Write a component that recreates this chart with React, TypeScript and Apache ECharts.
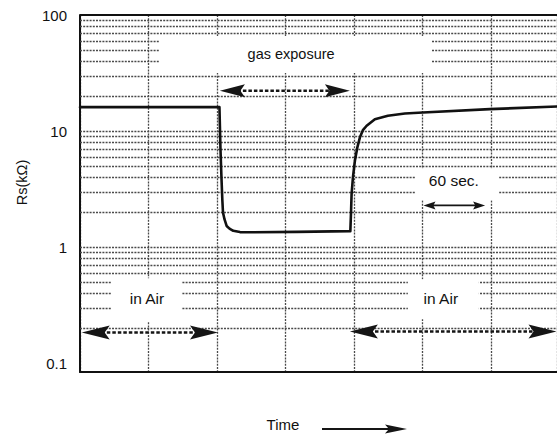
import React, { useEffect, useRef } from 'react';
import * as echarts from 'echarts';

// Sensor resistance trace (time in seconds, one vertical division = 60 s)
const timeSec = [0, 122.2, 123.1, 124.0, 124.7, 125.3, 126.6, 128.5, 131.0, 134.3, 140.2, 143.1, 190, 236.9, 237.6, 238.0, 239.2, 240.9, 243.1, 245.3, 247.9, 251.2, 258.4, 269.8, 284.7, 300.5, 359.1, 418];
const rsKOhm = [16.1, 16.1, 7.0, 3.9, 2.6, 2.0, 1.75, 1.53, 1.45, 1.39, 1.355, 1.35, 1.36, 1.38, 2.14, 2.88, 4.03, 5.57, 7.3, 8.86, 10.2, 11.15, 12.7, 13.6, 14.2, 14.5, 15.5, 16.3];

// Log-paper horizontal rulings
const rulingValues = [0.2, 0.3, 0.4, 0.5, 0.6, 0.7, 0.8, 0.9, 1, 2, 3, 4, 5, 6, 7, 8, 9, 10, 20, 30, 40, 50, 60, 70, 80, 90];
const yTickLabels = [0.1, 1, 10, 100];

const Y_MIN = 0.0847;
const Y_MAX = 100;
const X_MIN = 0;
const X_MAX = 418;
const X_STEP = 60;

const FONT = '"Liberation Sans", Arial, Helvetica, sans-serif';

export default function App() {
  const ref = useRef<HTMLDivElement>(null);

  useEffect(() => {
    if (!ref.current) return;
    const chart = echarts.init(ref.current, null, { renderer: 'svg' });
    const gridStyle = { color: '#4a4a4a', width: 1.3, type: [2, 1.2] as any };

    chart.setOption({
      animation: false,
      backgroundColor: '#ffffff',
      grid: { left: 80, right: 0, top: 15, bottom: 62, containLabel: false },
      xAxis: {
        type: 'value',
        min: X_MIN,
        max: X_MAX,
        interval: X_STEP,
        axisLine: { show: true, onZero: false, lineStyle: { color: '#111', width: 2 } },
        axisTick: { show: false },
        axisLabel: { show: false },
        splitLine: { show: true, lineStyle: gridStyle },
      },
      yAxis: {
        type: 'log',
        logBase: 10,
        min: Y_MIN,
        max: Y_MAX,
        splitNumber: 3,
        axisLine: { show: true, lineStyle: { color: '#111', width: 2 } },
        axisTick: { show: false },
        splitLine: { show: false },
        axisLabel: {
          show: true,
          margin: 13,
          fontSize: 15,
          fontFamily: FONT,
          color: '#111',
          formatter: (v: number) => {
            const hit = yTickLabels.find((t) => Math.abs(Math.log10(v) - Math.log10(t)) < 0.01);
            return hit === undefined ? '' : String(hit);
          },
        },
      },
      series: [
        {
          type: 'line',
          data: timeSec.map((t, i) => [t, rsKOhm[i]]),
          showSymbol: false,
          symbol: 'none',
          z: 10,
          lineStyle: { color: '#111', width: 2.6, join: 'round', cap: 'round' },
          markLine: {
            silent: true,
            symbol: 'none',
            z: 1,
            label: { show: false },
            lineStyle: gridStyle,
            data: [
              ...rulingValues.map((v) => ({ yAxis: v })),
              { yAxis: Y_MAX, lineStyle: { color: '#111', width: 2, type: 'solid' } },
            ],
          },
        },
      ],
    });

    const px = (t: number, v: number) => chart.convertToPixel({ gridIndex: 0 }, [t, v]) as number[];

    const els: any[] = [];
    const box = (t1: number, v1: number, t2: number, v2: number) => {
      const a = px(t1, v1);
      const b = px(t2, v2);
      els.push({
        type: 'rect',
        z: 50,
        silent: true,
        shape: { x: Math.min(a[0], b[0]), y: Math.min(a[1], b[1]), width: Math.abs(b[0] - a[0]), height: Math.abs(b[1] - a[1]) },
        style: { fill: '#ffffff' },
      });
    };
    const label = (text: string, x: number, y: number, size: number, rotation = 0) => {
      els.push({
        type: 'text',
        z: 70,
        x,
        y,
        rotation,
        style: { text, fill: '#111', font: `${size}px ${FONT}`, align: 'center', verticalAlign: 'middle' },
      });
    };
    const arrow = (
      x1: number,
      x2: number,
      y: number,
      L: number,
      H: number,
      dashed: boolean,
      width: number,
      both: boolean,
    ) => {
      const color = '#151515';
      els.push({
        type: 'line',
        z: 60,
        shape: { x1: both ? x1 + L * 0.7 : x1, y1: y, x2: x2 - L * 0.7, y2: y },
        style: { stroke: color, lineWidth: width, lineDash: dashed ? [3.5, 2] : undefined },
      });
      els.push({
        type: 'polygon',
        z: 61,
        shape: { points: [[x2, y], [x2 - L, y - H], [x2 - L * 0.82, y], [x2 - L, y + H]] },
        style: { fill: color },
      });
      if (both) {
        els.push({
          type: 'polygon',
          z: 61,
          shape: { points: [[x1, y], [x1 + L, y - H], [x1 + L * 0.82, y], [x1 + L, y + H]] },
          style: { fill: color },
        });
      }
    };

    // White label backgrounds covering the rulings
    box(69.2, 66, 308.3, 31.7);
    box(27.2, 0.544, 89.3, 0.232);
    box(287.3, 0.533, 349.5, 0.241);
    box(294.3, 4.8, 367, 2.55);

    // Annotation arrows in data coordinates
    {
      const a = px(122.6, 22.3), b = px(236.5, 22.3);
      arrow(a[0], b[0], a[1], 25, 6.5, true, 2.5, true);
    }
    {
      const a = px(1.5, 0.185), b = px(120.9, 0.185);
      arrow(a[0], b[0], a[1], 28, 7, true, 2.5, true);
    }
    {
      const a = px(236.5, 0.189), b = px(418, 0.189);
      arrow(a[0], b[0] - 0.5, a[1], 28, 7, true, 2.5, true);
    }
    {
      const a = px(301, 2.3), b = px(355, 2.3);
      arrow(a[0], b[0], a[1], 12, 4, false, 1.6, true);
    }

    // Labels
    {
      const p = px(185, 46.2);
      label('gas exposure', p[0], p[1], 14.5);
    }
    {
      const p = px(58.7, 0.366);
      label('in Air', p[0], p[1], 15.5);
    }
    {
      const p = px(316.2, 0.366);
      label('in Air', p[0], p[1], 15.5);
    }
    {
      const p = px(327.6, 3.75);
      label('60 sec.', p[0], p[1], 15.5);
    }
    label('Rs(kΩ)', 21.5, 182.5, 14.5, Math.PI / 2);
    label('Time', 283, 424, 15);
    arrow(322, 407, 429, 22, 4.5, false, 1.8, false);

    chart.setOption({ graphic: { elements: els } });

    return () => chart.dispose();
  }, []);

  return (
    <div
      ref={ref}
      style={{ position: 'fixed', left: 0, top: 0, width: 557, height: 434, background: '#fff' }}
    />
  );
}
